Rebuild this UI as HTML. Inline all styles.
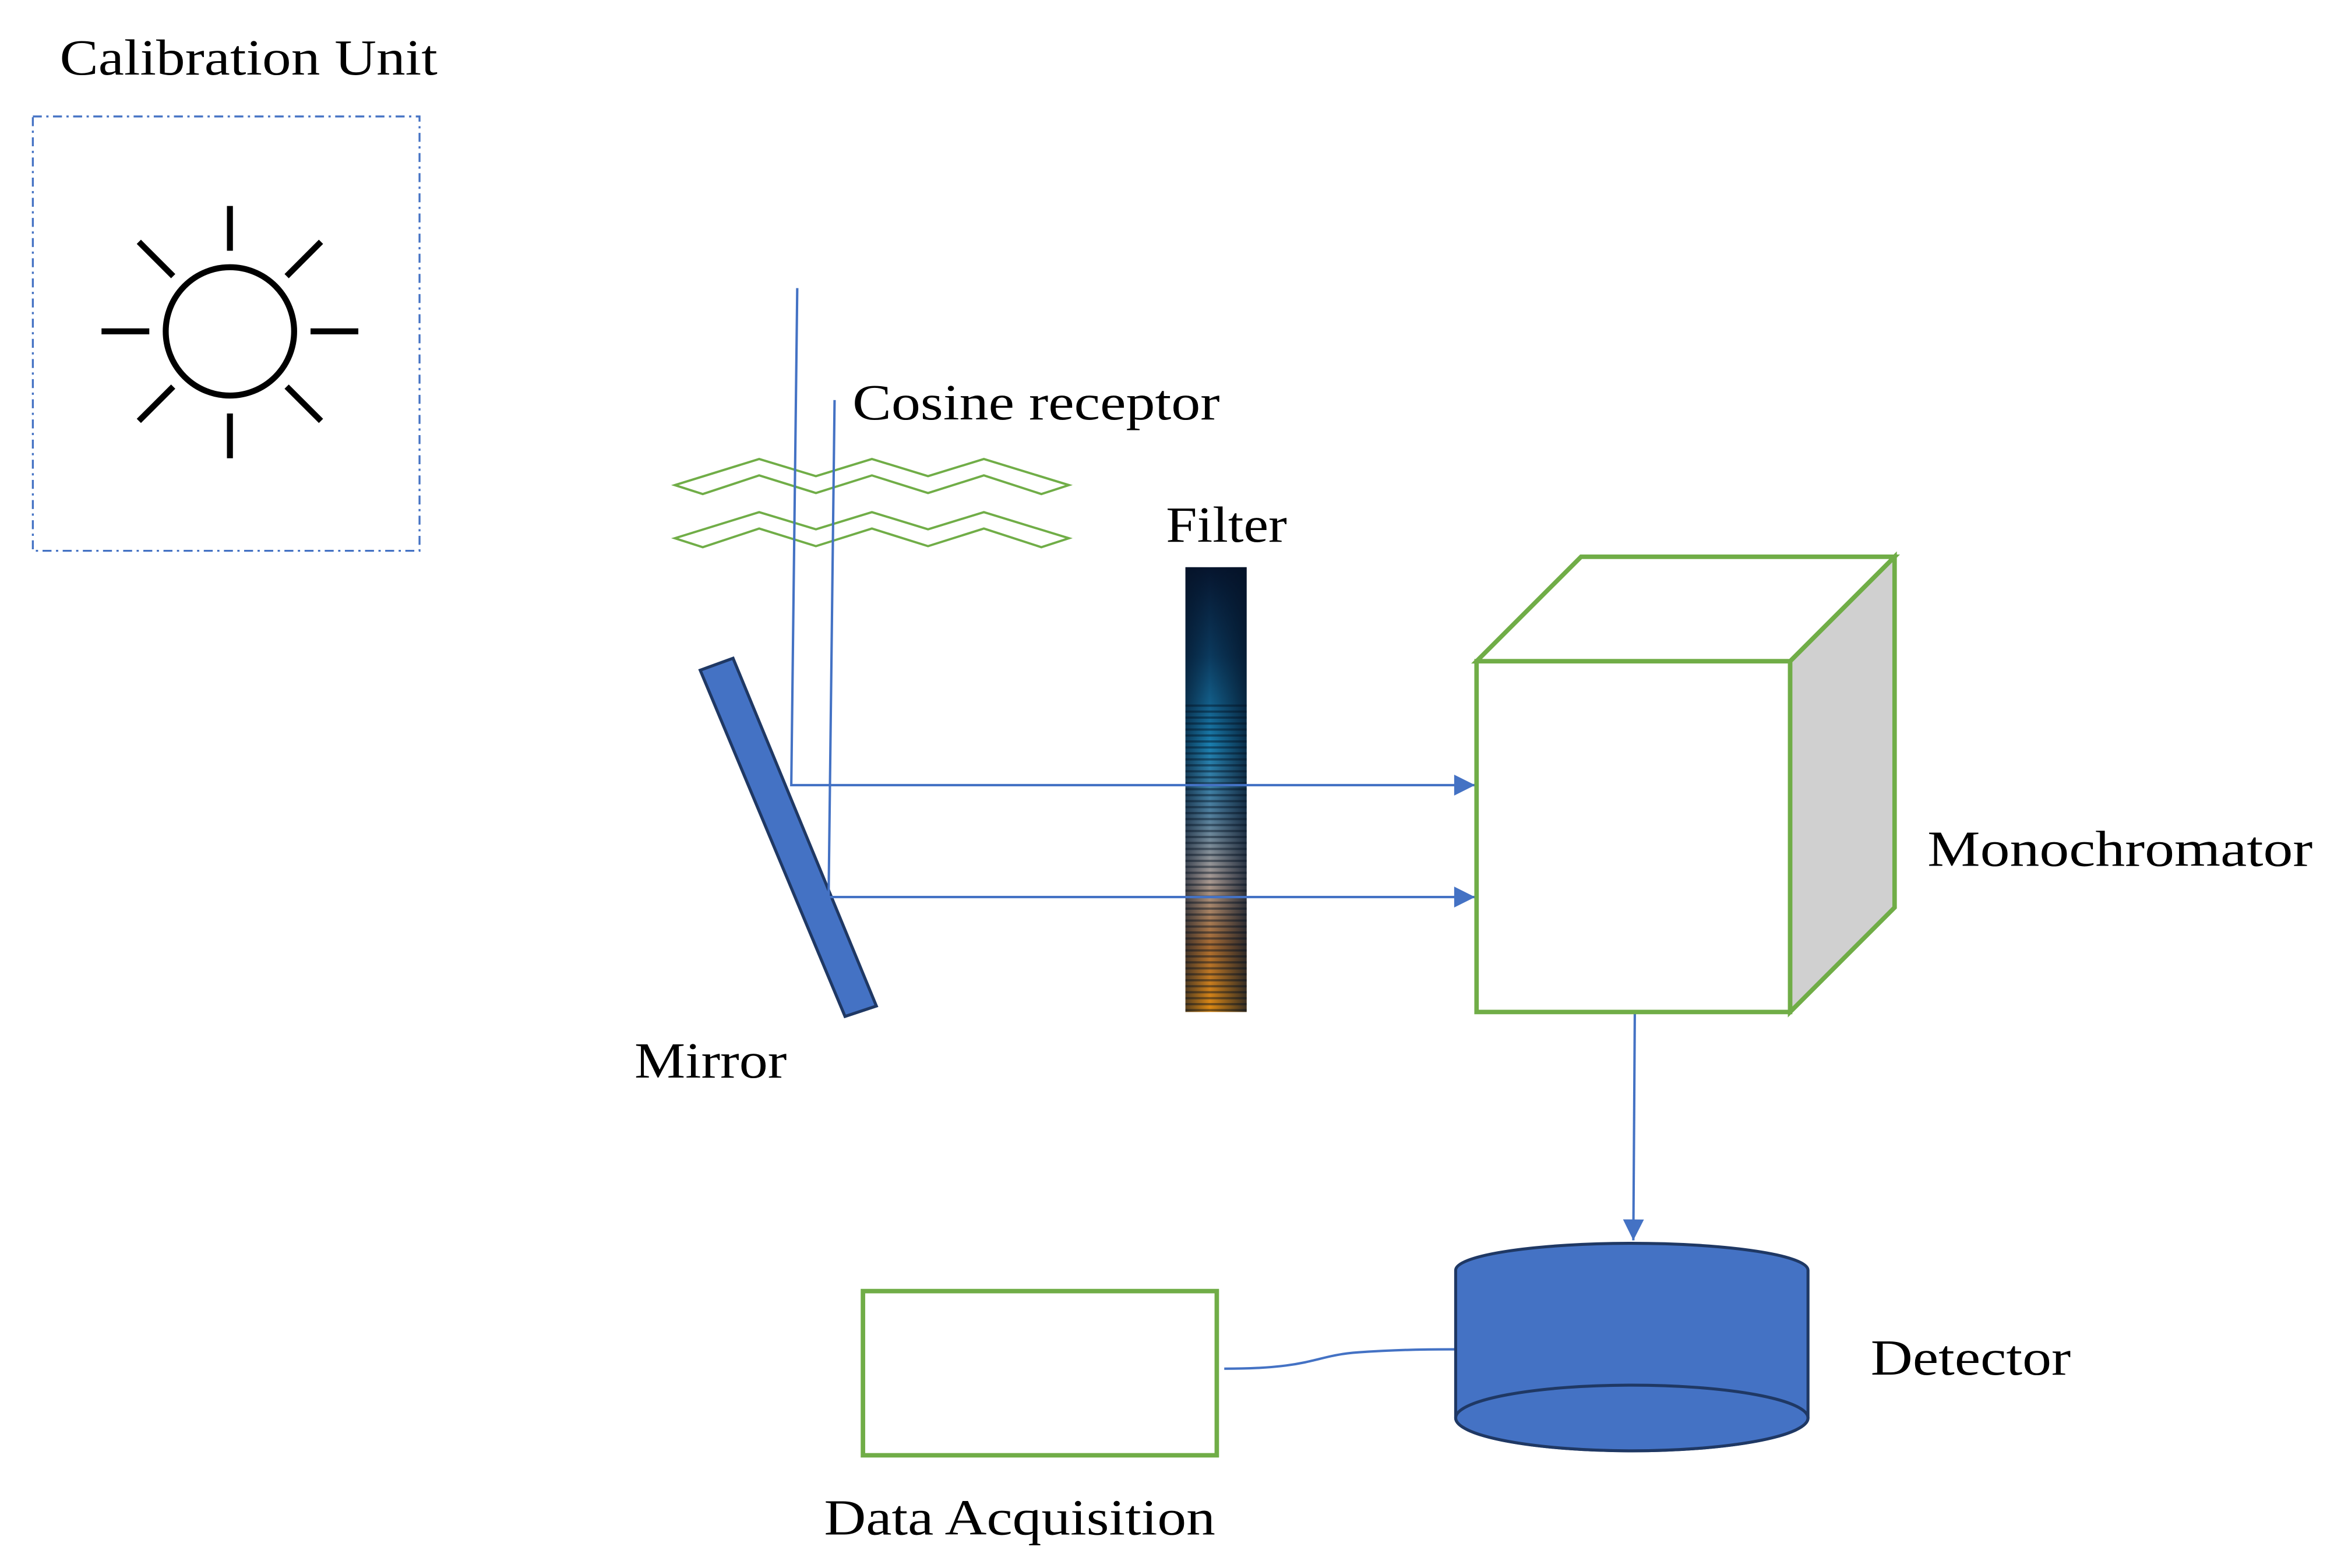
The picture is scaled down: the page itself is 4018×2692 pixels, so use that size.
<!DOCTYPE html>
<html><head><meta charset="utf-8"><style>html,body{margin:0;padding:0;background:#fff}svg{display:block}</style></head>
<body>
<svg width="4018" height="2692" viewBox="0 0 1568 1050.5" xmlns="http://www.w3.org/2000/svg">
<defs>
<marker id="ar" viewBox="0 0 10 10" refX="10" refY="5" markerWidth="18" markerHeight="14" markerUnits="userSpaceOnUse" orient="auto"><path d="M0,0 L10,5 L0,10 z" fill="#4472c4"/></marker>
<linearGradient id="fg" x1="0" y1="0" x2="0" y2="1">
<stop offset="0" stop-color="#06152e"/><stop offset="0.2" stop-color="#0b3a5e"/><stop offset="0.4" stop-color="#1a7fb0"/><stop offset="0.55" stop-color="#4f7f9e"/><stop offset="0.7" stop-color="#a89a94"/><stop offset="0.85" stop-color="#a86a30"/><stop offset="1" stop-color="#e08a10"/>
</linearGradient>
<linearGradient id="fh" x1="0" y1="0" x2="1" y2="0">
<stop offset="0" stop-color="#041226" stop-opacity="0.6"/><stop offset="0.4" stop-color="#041226" stop-opacity="0"/><stop offset="1" stop-color="#041226" stop-opacity="0.75"/>
</linearGradient>
<pattern id="st" width="4" height="4" patternUnits="userSpaceOnUse"><rect width="4" height="1.5" fill="#031020" fill-opacity="0.45"/></pattern>
</defs>
<rect width="1568" height="1050.5" fill="#fff"/>
<g font-family="Liberation Serif, serif" font-size="34" fill="#000">
<text x="40" y="50" textLength="253" lengthAdjust="spacingAndGlyphs">Calibration Unit</text>
<text x="571" y="281" textLength="246" lengthAdjust="spacingAndGlyphs">Cosine receptor</text>
<text x="781" y="363" textLength="81" lengthAdjust="spacingAndGlyphs">Filter</text>
<text x="1291" y="580" textLength="258" lengthAdjust="spacingAndGlyphs">Monochromator</text>
<text x="425" y="722" textLength="102" lengthAdjust="spacingAndGlyphs">Mirror</text>
<text x="1253" y="921" textLength="134" lengthAdjust="spacingAndGlyphs">Detector</text>
<text x="552" y="1028" textLength="262" lengthAdjust="spacingAndGlyphs">Data Acquisition</text>
</g>
<rect x="22" y="78" width="259" height="291" fill="none" stroke="#4472c4" stroke-width="1.3" stroke-dasharray="6,3,1.5,3"/>
<g stroke="#000" stroke-width="4" fill="none">
<circle cx="154" cy="222" r="43"/>
<line x1="154" y1="138" x2="154" y2="168"/><line x1="154" y1="277" x2="154" y2="307"/>
<line x1="68" y1="222" x2="100" y2="222"/><line x1="208" y1="222" x2="240" y2="222"/>
<line x1="93" y1="162" x2="116" y2="185"/><line x1="192" y1="259" x2="215" y2="282"/>
<line x1="215" y1="162" x2="192" y2="185"/><line x1="116" y1="259" x2="93" y2="282"/>
</g>
<g fill="none" stroke="#70ad47" stroke-width="1.5">
<polygon points="452,325 508.5,307.5 546.5,319 584,307.5 621.6,319 659,307.5 716,325 697.5,331 659,318.5 621.6,330.3 584,318.5 546.5,330.3 508.5,318.5 470.7,331"/>
<polygon transform="translate(0,35.6)" points="452,325 508.5,307.5 546.5,319 584,307.5 621.6,319 659,307.5 716,325 697.5,331 659,318.5 621.6,330.3 584,318.5 546.5,330.3 508.5,318.5 470.7,331"/>
</g>
<rect x="794" y="380" width="41" height="298" fill="url(#fg)"/>
<rect x="794" y="380" width="41" height="298" fill="url(#fh)"/>
<rect x="794" y="470" width="41" height="208" fill="url(#st)"/>
<polygon points="469,449 491,441 587,674 566,681" fill="#4472c4" stroke="#1f3864" stroke-width="2"/>
<g stroke="#4472c4" stroke-width="1.6" fill="none">
<polyline points="534,193 530,526 988,526" marker-end="url(#ar)"/>
<polyline points="559,268 555,601 988,601" marker-end="url(#ar)"/>
<line x1="1095" y1="678" x2="1094" y2="831" marker-end="url(#ar)"/>
<path d="M820,917 C880,917 880,908 910,906 C940,904 960,904 975,904"/>
</g>
<polygon points="1199,443 1269,373 1269,608 1199,678" fill="#d0d0d0" stroke="#70ad47" stroke-width="3"/>
<polygon points="989,443 1059,373 1269,373 1199,443" fill="#fff" stroke="#70ad47" stroke-width="3"/>
<rect x="989" y="443" width="210" height="235" fill="#fff" stroke="#70ad47" stroke-width="3"/>
<path d="M975,851 A118,18 0 0 1 1211,851 L1211,950 A118,22 0 0 1 975,950 Z" fill="#4472c4" stroke="#1f3864" stroke-width="2"/>
<ellipse cx="1093" cy="950" rx="118" ry="22" fill="#4472c4" stroke="#1f3864" stroke-width="2"/>
<rect x="578" y="865" width="237" height="110" fill="#fff" stroke="#70ad47" stroke-width="3"/>
</svg>
</body></html>
